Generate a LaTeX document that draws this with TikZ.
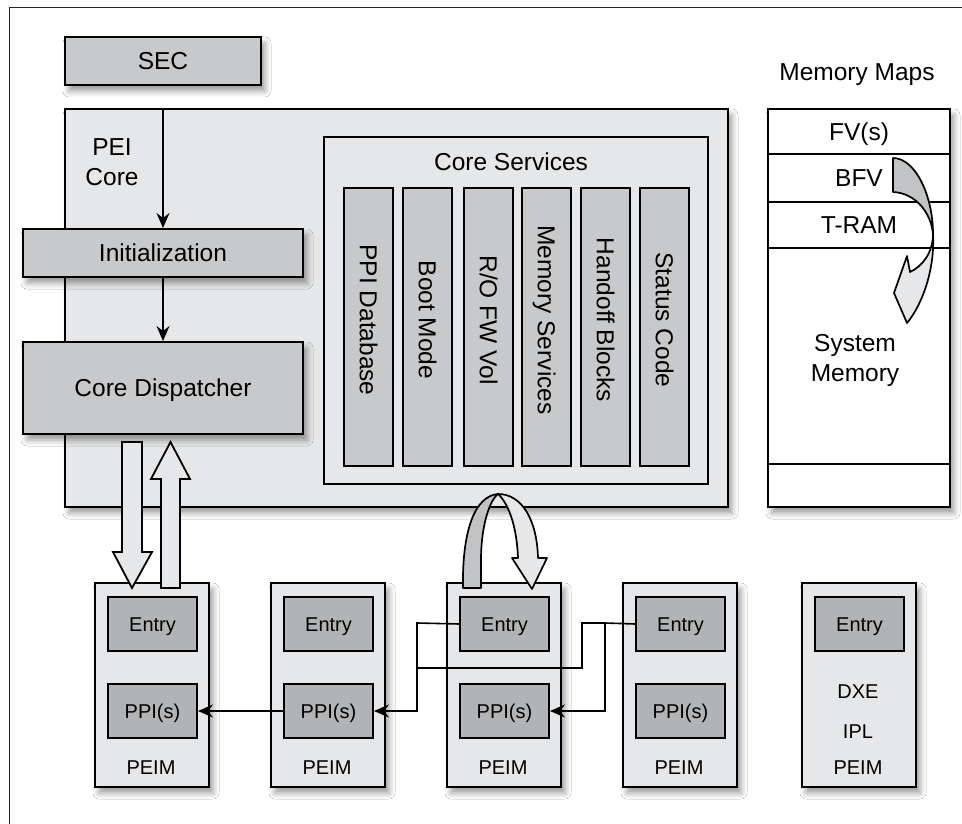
\documentclass[tikz,border=0pt]{standalone}
\usepackage{fontspec}
\setmainfont{Liberation Sans}
\usetikzlibrary{arrows.meta,shadows.blur}
\definecolor{lightbg}{HTML}{E6E7E8}
\definecolor{midgray}{HTML}{C8C9CA}
\definecolor{entrygray}{HTML}{B1B3B5}
\definecolor{ribbon}{HTML}{C2C3C5}
\begin{document}
\begin{tikzpicture}[x=1pt,y=-1pt,
  bigfont/.style={font=\fontsize{24.5}{30}\selectfont},
  smallfont/.style={font=\fontsize{20}{24}\selectfont},
  box/.style={draw=black, line width=2pt, inner sep=0pt, anchor=north west},
  bigbox/.style={box, bigfont, text height=17.5pt, text depth=0pt},
  smallbox/.style={box, smallfont, text height=14.3pt, text depth=0pt},
  shad/.style={blur shadow={shadow xshift=4pt, shadow yshift=-6pt, shadow blur radius=6pt, shadow opacity=40}},
  bigtxt/.style={bigfont, inner sep=0pt, text height=17.5pt, text depth=0pt},
  smalltxt/.style={smallfont, inner sep=0pt, text height=14.3pt, text depth=0pt},
  conn/.style={line width=1.6pt},
  arr/.style={conn, -{Stealth[length=15pt,width=13pt,inset=5pt]}},
  fat/.style={draw=black, line width=1.8pt, fill=lightbg, line join=miter},
  ribbonline/.style={draw=black, line width=1.7pt, line join=round}
]
\useasboundingbox (0,0) rectangle (962,824);
\fill[white] (0,0) rectangle (962,824);
% outer frame (cropped)
\draw[line width=1pt, black!85] (9,824) -- (9,8) -- (962,8);

% SEC
\node[bigbox, fill=midgray, shad, minimum width=196pt, minimum height=48pt] (sec) at (64,36) {SEC};

% PEI core
\node[box, fill=lightbg, shad, minimum width=663pt, minimum height=398pt] (pei) at (64,108) {};
\node[bigfont, align=center, inner sep=0pt] (peilbl) at (112,162) {PEI\\Core};

% Core services
\node[box, fill=lightbg, minimum width=384pt, minimum height=347pt] (cs) at (323,136) {};
\node[bigtxt] (cstitle) at (511,162) {Core Services};
\foreach \x/\n in {343/1,402/2,463/3,521/4,580/5,639/6}
  \node[box, fill=midgray, minimum width=49pt, minimum height=278pt] (c\n) at (\x,187) {};
\node[bigtxt, rotate=-90] at ([yshift=7pt]c1.center) {PPI Database};
\node[bigtxt, rotate=-90] at ([yshift=7pt]c2.center) {Boot Mode};
\node[bigtxt, rotate=-90] at ([yshift=7pt]c3.center) {R/O FW Vol};
\node[bigtxt, rotate=-90] at ([yshift=7pt]c4.center) {Memory Services};
\node[bigtxt, rotate=-90] at ([yshift=7pt]c5.center) {Handoff Blocks};
\node[bigtxt, rotate=-90] at ([yshift=7pt]c6.center) {Status Code};

% Initialization and dispatcher
\node[bigbox, fill=midgray, shad, minimum width=280pt, minimum height=48pt] (init) at (22,228) {Initialization};
\node[bigbox, fill=midgray, shad, minimum width=280pt, minimum height=92pt] (disp) at (22,341) {Core Dispatcher};
\coordinate (s1) at (sec.south |- pei.north);
\draw[arr] (s1) -- (init.north);
\draw[arr] (init.south) -- (disp.north);

% Memory maps
\node[bigtxt] (mmt) at (857,72) {Memory Maps};
\node[box, fill=white, shad, minimum width=182pt, minimum height=398pt] (mem) at (767,108) {};
\node[bigbox, fill=white, minimum width=182pt, minimum height=45pt] (fv) at (767,108) {FV(s)};
\node[bigbox, fill=white, minimum width=182pt, minimum height=48pt] (bfv) at (767,153) {BFV};
\node[bigbox, fill=white, minimum width=182pt, minimum height=46pt] (tram) at (767,201) {T-RAM};
\node[box, fill=white, minimum width=182pt, minimum height=216pt] (sysm) at (767,247) {};
\node[box, fill=white, minimum width=182pt, minimum height=43pt] (rest) at (767,463) {};
\node[bigfont, align=center, inner sep=0pt] (sysmtxt) at (855,360) {System\\Memory};
% memory curved arrow
\path[ribbonline, fill=ribbon] (893,158) .. controls (915,158) and (933,195) .. (933,234)
  .. controls (931,212) and (915,193) .. (893,192) -- cycle;
\path[ribbonline, fill=lightbg] (933,234) .. controls (933,252) and (923,266) .. (910,272)
  -- (907,256) -- (894,293) -- (907,323) .. controls (922,305) and (935,270) .. (933,234) -- cycle;

% PEIMs
\foreach \i/\x in {1/94,2/270,3/446,4/622,5/801}{
  \node[box, fill=lightbg, shad, minimum width=114pt, minimum height=204pt] (peim\i) at (\x,582) {};
  \node[smallbox, fill=entrygray, minimum width=89pt, minimum height=54pt] (e\i) at (\x+13,596) {Entry};
}
\foreach \i/\x in {1/94,2/270,3/446,4/622}{
  \node[smallbox, fill=entrygray, minimum width=89pt, minimum height=54pt] (p\i) at (\x+13,683) {PPI(s)};
  \node[smalltxt] (pl\i) at (\x+57,767) {PEIM};
}
\node[smalltxt] (dxe) at (858,691) {DXE};
\node[smalltxt] (ipl) at (858,731) {IPL};
\node[smalltxt] (pl5) at (858,767) {PEIM};

% PPI connectors
\coordinate (ja) at (417,623);
\coordinate (jb) at (417,668);
\coordinate (jc) at (582,623);
\coordinate (jd) at (605,623);
\draw[arr] (e3.west) -- (ja) |- (p2.east);
\draw[arr] (e4.west) -- (jd) |- (p3.east);
\draw[conn] (jd) -- (jc) |- (jb);
\draw[arr] (p2.west) -- (p1.east);

% fat arrows between dispatcher and first PEIM
\path[fat] (122,442) -- (142,442) -- (142,552) -- (152,552) -- (132,588) -- (113,552) -- (122,552) -- cycle;
\path[fat] (161,588) -- (180,588) -- (180,479) -- (190,479) -- (170.5,442) -- (151,479) -- (161,479) -- cycle;

% curved arrow from core services to entry of third PEIM
\path[ribbonline, fill=ribbon] (463,588) .. controls (462,530) and (475,496) .. (498,494)
  .. controls (488,502) and (481,530) .. (481,560) -- (481,588) -- cycle;
\path[ribbonline, fill=lightbg] (498,494) .. controls (522,494) and (537,520) .. (538,558)
  -- (547,558) -- (532,589) -- (512,558) -- (518,558)
  .. controls (517,530) and (510,505) .. (498,494) -- cycle;
\end{tikzpicture}
\end{document}
